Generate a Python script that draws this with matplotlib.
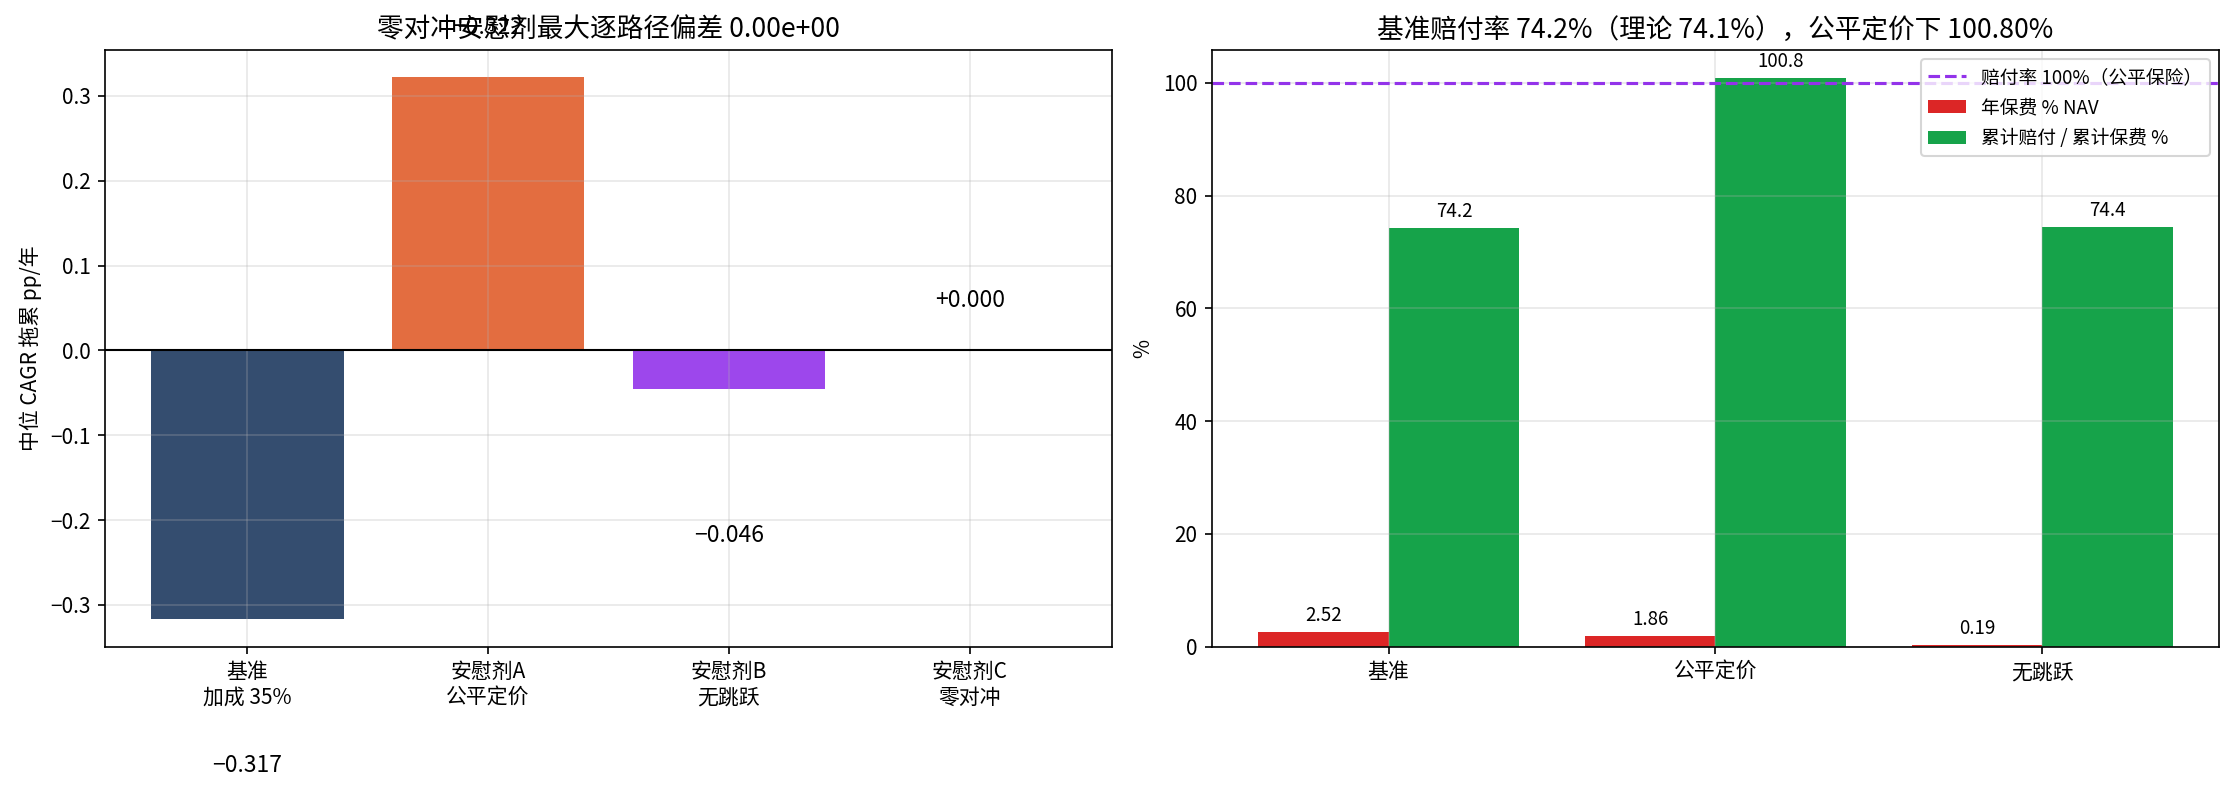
import matplotlib
matplotlib.use("Agg")
import matplotlib.pyplot as plt
import numpy as np

plt.rcParams['font.family'] = ['Noto Sans CJK SC', 'DejaVu Sans']
plt.rcParams['axes.unicode_minus'] = True

# left panel: median CAGR drag per scenario
drag_labels = ['基准\n加成 35%', '安慰剂A\n公平定价', '安慰剂B\n无跳跃', '安慰剂C\n零对冲']
drag_values = [-0.317, 0.322, -0.046, 0.000]
drag_colors = ['#1e3a5f', '#e05d2b', '#9333ea', '#6b7280']

# right panel: premium and payout ratio
cases = ['基准', '公平定价', '无跳跃']
premium_nav = [2.52, 1.86, 0.19]
payout_ratio = [74.2, 100.8, 74.4]

fig = plt.figure(figsize=(14.9, 5.26), dpi=150)
ax1 = fig.add_axes([0.047, 0.1806, 0.4505, 0.756])
ax2 = fig.add_axes([0.5423, 0.1806, 0.4505, 0.756])

x = np.arange(len(drag_labels))
ax1.bar(x, drag_values, width=0.8, color=drag_colors, alpha=0.9)
ax1.axhline(0, color='black', lw=1)
for xi, v in zip(x, drag_values):
    y = v + 0.059 if v >= 0 else v - 0.172
    ax1.text(xi, y, f'{v:+.3f}'.replace('-', '\u2212'), ha='center', va='center',
             fontsize=11, fontweight='medium')
ax1.set_xticks(x)
ax1.set_xticklabels(drag_labels, fontsize=10)
ax1.set_ylabel('中位 CAGR 拖累 pp/年', fontsize=10)
ax1.set_title('零对冲安慰剂最大逐路径偏差 0.00e+00', fontsize=12.8)
ax1.grid(True, alpha=0.3)
ax1.tick_params(labelsize=10)

x2 = np.arange(len(cases))
w = 0.4
b1 = ax2.bar(x2 - w / 2, premium_nav, width=w, color='#dc2626', label='年保费 % NAV')
b2 = ax2.bar(x2 + w / 2, payout_ratio, width=w, color='#16a34a', label='累计赔付 / 累计保费 %')
ax2.axhline(100, color='#9333ea', ls='--', lw=1.5, label='赔付率 100%（公平保险）')
ax2.bar_label(b1, labels=[f'{v:.2f}' for v in premium_nav], padding=3, fontsize=9)
ax2.bar_label(b2, labels=[f'{v:.1f}' for v in payout_ratio], padding=3, fontsize=9)
ax2.set_xticks(x2)
ax2.set_xticklabels(cases, fontsize=10)
ax2.set_ylabel('%', fontsize=10)
ax2.set_title('基准赔付率 74.2%（理论 74.1%），公平定价下 100.80%', fontsize=12.8)
ax2.legend(loc='upper right', fontsize=9)
ax2.grid(True, alpha=0.3)
ax2.tick_params(labelsize=10)

fig.savefig('out.png', dpi=150)
